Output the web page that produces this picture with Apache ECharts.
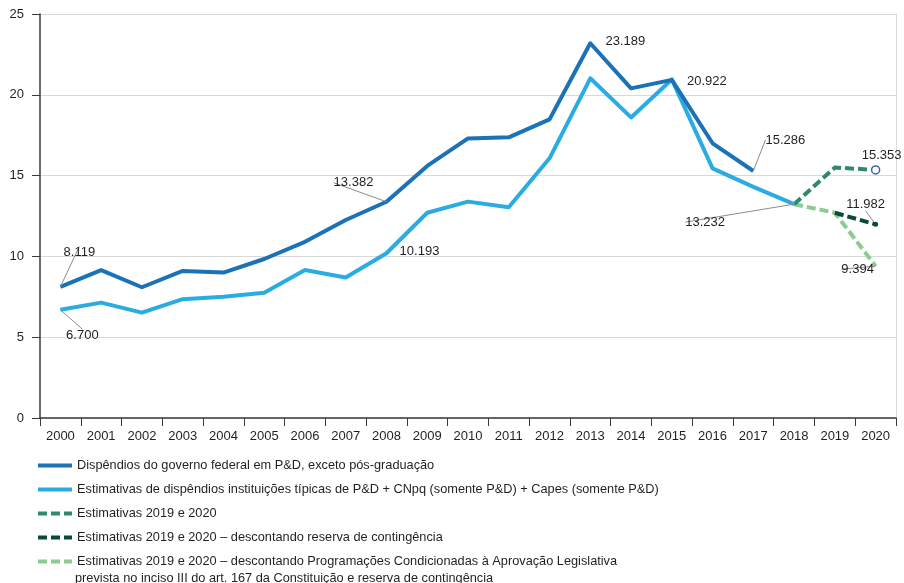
<!DOCTYPE html>
<html>
<head>
<meta charset="utf-8">
<script src="https://cdn.jsdelivr.net/npm/echarts@6/dist/echarts.min.js"></script>
<style>
  html, body { margin: 0; padding: 0; background: #fff; }
  #chart { width: 904px; height: 583px; }
</style>
</head>
<body>
<div id="chart"></div>
<script>
const years = ['2000', '2001', '2002', '2003', '2004', '2005', '2006', '2007', '2008', '2009', '2010',
  '2011', '2012', '2013', '2014', '2015', '2016', '2017', '2018', '2019', '2020'];

// values (R$ bilhões)
const federal = [8.119, 9.15, 8.09, 9.1, 9.0, 9.84, 10.9, 12.25, 13.382, 15.6, 17.3,
  17.37, 18.48, 23.189, 20.4, 20.922, 17.0, 15.286, null, null, null];
const tipicas = [6.700, 7.14, 6.52, 7.35, 7.5, 7.75, 9.16, 8.7, 10.193, 12.7, 13.39,
  13.04, 16.07, 21.02, 18.6, 20.95, 15.45, 14.3, 13.232, null, null];
const estimativas = [null, null, null, null, null, null, null, null, null, null, null,
  null, null, null, null, null, null, null, 13.232, 15.5, 15.353];
const reserva = [null, null, null, null, null, null, null, null, null, null, null,
  null, null, null, null, null, null, null, null, 12.7, 11.982];
const condicionadas = [null, null, null, null, null, null, null, null, null, null, null,
  null, null, null, null, null, null, null, 13.232, 12.7, 9.394];

const yTicks = [0, 5, 10, 15, 20, 25];

const names = [
  'Dispêndios do governo federal em P&D, exceto pós-graduação',
  'Estimativas de dispêndios instituições típicas de P&D + CNpq (somente P&D) + Capes (somente P&D)',
  'Estimativas 2019 e 2020',
  'Estimativas 2019 e 2020 – descontando reserva de contingência',
  'Estimativas 2019 e 2020 – descontando Programações Condicionadas à Aprovação Legislativa'
];
const secondLine = 'prevista no inciso III do art. 167 da Constituição e reserva de contingência';

const FONT = '"Liberation Sans", Arial, sans-serif';
const TXT = '#231f20';

// which points carry a value label: [dx, dy, leader line]
const labelSpots = {
  0: { 0: [19, -34, true], 8: [-33, -19, true], 13: [35, -2, false], 15: [35, 2, false], 17: [32, -31, true] },
  1: { 0: [22, 26, true], 8: [33, -2, false], 18: [-89, 18, true] },
  2: { 20: [6, -14, false] },
  3: { 20: [-10, -20, true] },
  4: { 20: [-18, 3, true] }
};

function withLabels(arr, si) {
  const spots = labelSpots[si] || {};
  return arr.map((v, i) => {
    if (v == null || !spots[i]) return v;
    return {
      value: v,
      label: { show: true },
      labelLine: { show: spots[i][2] }
    };
  });
}

function layoutFor(si) {
  return function (p) {
    const s = (labelSpots[si] || {})[p.dataIndex];
    if (!s) return {};
    return { dx: s[0], dy: s[1] };
  };
}

const baseLabel = {
  show: false,
  position: 'inside',
  color: TXT,
  fontFamily: FONT,
  fontSize: 13,
  formatter: p => Number(p.value).toFixed(3)
};
const baseLabelLine = { show: false, lineStyle: { color: '#8c8c8c', width: 1 }, length2: 0 };

function series(si, data, color, dashed, extra) {
  return Object.assign({
    name: names[si],
    type: 'line',
    data: withLabels(data, si),
    symbol: 'circle',
    symbolSize: 0,
    showSymbol: true,
    connectNulls: false,
    lineStyle: { color: color, width: 4, type: dashed ? [9, 4] : 'solid', join: 'round' },
    itemStyle: { color: color },
    label: baseLabel,
    labelLine: baseLabelLine,
    labelLayout: layoutFor(si),
    emphasis: { disabled: true },
    z: 3
  }, extra || {});
}

const chart = echarts.init(document.getElementById('chart'), null, { renderer: 'canvas' });

const condData = withLabels(condicionadas, 4);
const resData = withLabels(reserva, 3);
resData[20] = { value: reserva[20], symbol: 'circle', symbolSize: 5, itemStyle: { color: '#0b4a3a' },
  label: { show: true }, labelLine: { show: true } };
const estData = withLabels(estimativas, 2);
estData[20] = { value: estimativas[20], symbol: 'circle', symbolSize: 8,
  itemStyle: { color: '#fff', borderColor: '#3a66b0', borderWidth: 1.5 },
  label: { show: true }, labelLine: { show: false } };

chart.setOption({
  animation: false,
  textStyle: { fontFamily: FONT },
  grid: { left: 40, right: 8, top: 14, bottom: 165 },
  legend: {
    orient: 'vertical',
    left: 36,
    top: 459,
    padding: 0,
    itemWidth: 34,
    itemHeight: 12,
    itemGap: 11,
    selectedMode: false,
    itemStyle: { opacity: 0 },
    lineStyle: { width: 4 },
    textStyle: { color: TXT, fontSize: 12.75, fontFamily: FONT },
    data: names.map(n => ({ name: n }))
  },
  graphic: [{
    type: 'text',
    left: 75,
    top: 572,
    style: { text: secondLine, fill: TXT, font: '12.75px ' + FONT }
  }],
  xAxis: {
    type: 'category',
    data: years,
    boundaryGap: true,
    axisLine: { lineStyle: { color: '#3a3a3a', width: 1.5 } },
    axisTick: { show: true, length: 8, lineStyle: { color: '#3a3a3a', width: 1 } },
    axisLabel: { color: TXT, fontSize: 13, margin: 12, fontFamily: FONT },
    splitLine: { show: false }
  },
  yAxis: [{
    type: 'value',
    min: 0,
    max: 25,
    interval: 5,
    axisLine: { show: true, lineStyle: { color: '#3a3a3a', width: 1.5 } },
    axisTick: { show: true, length: 8, lineStyle: { color: '#3a3a3a', width: 1 } },
    axisLabel: { color: TXT, fontSize: 13, margin: 16, fontFamily: FONT,
      formatter: v => yTicks.indexOf(v) >= 0 ? String(v) : '' },
    splitLine: { lineStyle: { color: '#d9d9d9', width: 1 } }
  }, {
    type: 'value',
    position: 'right',
    min: 0,
    max: 25,
    interval: 5,
    axisLine: { show: true, lineStyle: { color: '#d9d9d9', width: 1 } },
    axisTick: { show: false },
    axisLabel: { show: false },
    splitLine: { show: false }
  }],
  series: [
    series(4, condicionadas, '#8ccc8f', true, { data: condData, z: 2 }),
    series(2, estimativas, '#2f8a6d', true, { data: estData, z: 2 }),
    series(3, reserva, '#0b4a3a', true, { data: resData, z: 3 }),
    series(1, tipicas, '#2aace2', false, { z: 4 }),
    series(0, federal, '#1b72b7', false, { z: 5 })
  ]
});
</script>
</body>
</html>
